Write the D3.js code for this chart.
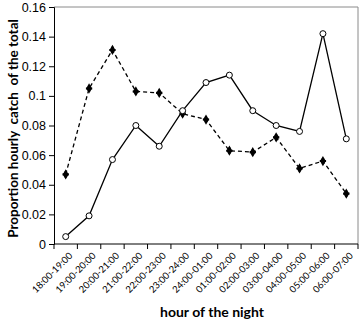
<!DOCTYPE html>
<html>
<head>
<meta charset="utf-8">
<script src="https://cdn.jsdelivr.net/npm/d3@7"></script>
<style>
  html, body { margin: 0; padding: 0; background: #fff; }
  svg { display: block; font-family: Lato, "Open Sans", sans-serif; }
  .axis text { fill: #000; }
</style>
</head>
<body>
<div id="chart"></div>
<script>
const hours = ["18:00-19:00","19:00-20:00","20:00-21:00","21:00-22:00","22:00-23:00","23:00-24:00",
  "24:00-01:00","01:00-02:00","02:00-03:00","03:00-04:00","04:00-05:00","05:00-06:00","06:00-07:00"];
const solidVals  = [0.005, 0.019, 0.057, 0.080, 0.066, 0.090, 0.109, 0.114, 0.090, 0.080, 0.076, 0.142, 0.071];
const dashedVals = [0.047, 0.105, 0.131, 0.103, 0.102, 0.088, 0.084, 0.063, 0.062, 0.072, 0.051, 0.056, 0.034];
const yTicks = [0, 0.02, 0.04, 0.06, 0.08, 0.1, 0.12, 0.14, 0.16];

const width = 360, height = 322;
const margin = { top: 7, right: 2, bottom: 78, left: 54 };
const innerW = width - margin.left - margin.right;
const innerH = height - margin.top - margin.bottom;

const svg = d3.select("#chart").append("svg")
  .attr("width", width).attr("height", height);

const g = svg.append("g")
  .attr("transform", `translate(${margin.left},${margin.top})`);

const x = d3.scaleBand().domain(hours).range([0, innerW]);
const y = d3.scaleLinear().domain([0, 0.16]).range([innerH, 0]);

// frame (top/right grey)
g.append("path")
  .attr("d", `M0,0H${innerW}V${innerH}`)
  .attr("fill", "none").attr("stroke", "#8a8a8a").attr("stroke-width", 1);

// y axis
const axY = g.append("g").attr("class", "axis")
  .call(d3.axisLeft(y).tickValues(yTicks).tickSize(5).tickPadding(3)
    .tickFormat(d => d === 0 ? "0" : String(+d.toFixed(2))));
axY.selectAll("text").style("font-size", "12.5px");
axY.selectAll("line, path").attr("stroke", "#000");

// x axis: ticks on boundaries
const bounds = d3.range(hours.length + 1).map(i => i * x.bandwidth());
const axX = g.append("g").attr("class", "axis")
  .attr("transform", `translate(0,${innerH})`);
axX.append("line").attr("x1", 0).attr("x2", innerW).attr("stroke", "#000");
axX.selectAll("line.tk").data(bounds).join("line")
  .attr("class", "tk")
  .attr("x1", d => d).attr("x2", d => d)
  .attr("y1", 0).attr("y2", 5).attr("stroke", "#000");
axX.selectAll("text").data(hours).join("text")
  .attr("transform", d => `translate(${x(d) + x.bandwidth() / 2 + 5},${10}) rotate(-45)`)
  .attr("text-anchor", "end")
  .attr("dy", "0.35em")
  .style("font-size", "9.5px")
  .text(d => d);

// lines
const line = d3.line()
  .x((d, i) => x(hours[i]) + x.bandwidth() / 2)
  .y(d => y(d));

g.append("path")
  .attr("d", line(dashedVals))
  .attr("fill", "none").attr("stroke", "#000")
  .attr("stroke-width", 1.3).attr("stroke-dasharray", "4,3");

g.append("path")
  .attr("d", line(solidVals))
  .attr("fill", "none").attr("stroke", "#000")
  .attr("stroke-width", 1.3);

// markers
const diamond = d3.symbol().type(d3.symbolDiamond).size(30);
const cross = d3.symbol().type(d3.symbolCross).size(22);
g.selectAll("g.dm").data(dashedVals).join("g")
  .attr("class", "dm")
  .attr("transform", (d, i) => `translate(${x(hours[i]) + x.bandwidth() / 2},${y(d)})`)
  .each(function () {
    d3.select(this).append("path").attr("d", diamond()).attr("fill", "#000");
    d3.select(this).append("path").attr("d", cross()).attr("fill", "#000");
  });

g.selectAll("circle.pt").data(solidVals).join("circle")
  .attr("class", "pt")
  .attr("cx", (d, i) => x(hours[i]) + x.bandwidth() / 2)
  .attr("cy", d => y(d))
  .attr("r", 3)
  .attr("fill", "#fff").attr("stroke", "#000").attr("stroke-width", 1);

// axis titles
svg.append("text")
  .attr("transform", `translate(13,${margin.top + innerH / 2 + 3}) rotate(-90)`)
  .attr("text-anchor", "middle")
  .attr("dy", "0.35em")
  .style("font-size", "13.5px").style("font-weight", "bold")
  .style("white-space", "pre")
  .text("Proportion hourly  catch  of the total");

svg.append("text")
  .attr("x", 212).attr("y", 317)
  .attr("text-anchor", "middle")
  .style("font-size", "14px").style("font-weight", "bold")
  .text("hour of the night");
</script>
</body>
</html>
